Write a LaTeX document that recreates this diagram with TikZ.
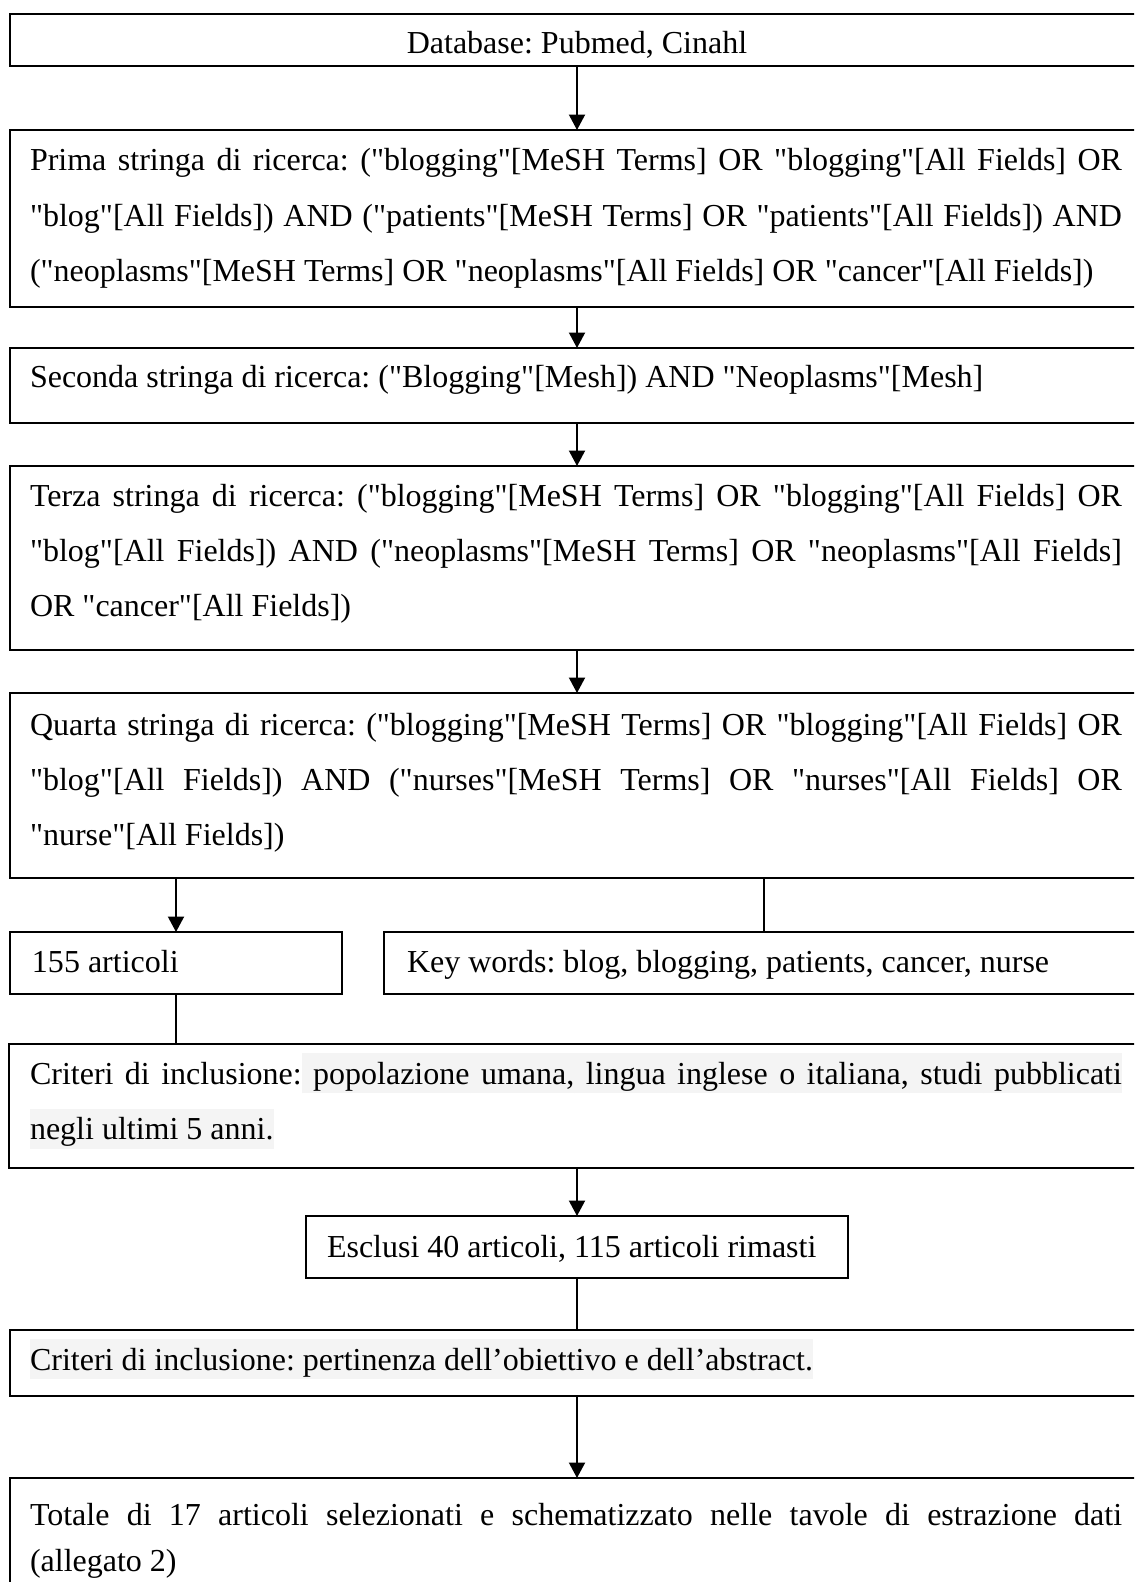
\documentclass[tikz,border=0pt]{standalone}
\usepackage{fontspec}
\setmainfont{Liberation Serif}[Ligatures=TeXOff]
\usetikzlibrary{arrows.meta}
\definecolor{hlgray}{HTML}{F4F4F4}
\newcommand\hlsp{{\color{hlgray}\leaders\vrule height 11.5pt depth 3.5pt\hskip\fontdimen2\font plus\fontdimen3\font minus\fontdimen4\font}}
\newcommand\hlw[1]{{\setlength{\fboxsep}{0pt}\colorbox{hlgray}{\vrule width 0pt height 11.5pt depth 3.5pt#1}}}
\newcommand\jline[1]{\makebox[\linewidth][s]{#1}}
\frenchspacing
\begin{document}
\begin{tikzpicture}[x=0.375pt, y=-0.375pt,
  box/.style={draw, line width=0.75pt, inner sep=0pt, outer sep=0pt, anchor=north west},
  txt/.style={inner sep=0pt, outer sep=0pt, anchor=base west, font=\fontsize{12pt}{20.7pt}\selectfont},
  arr/.style={line width=0.75pt, -{Triangle[width=6pt,length=5.8pt]}},
  conn/.style={line width=0.75pt}]
\useasboundingbox (0,0) rectangle (1134,1582);
\fill[white] (0,0) rectangle (1134,1582);
\clip (0,0) rectangle (1134,1582);
\coordinate (xa) at (577,0);
\coordinate (xk) at (764,0);
% boxes
\node[box, minimum width=1136*0.375pt, minimum height=52*0.375pt] (b1) at (10,14) {};
\node[box, minimum width=1136*0.375pt, minimum height=177*0.375pt] (b2) at (10,130) {};
\node[box, minimum width=1136*0.375pt, minimum height=75*0.375pt] (b3) at (10,348) {};
\node[box, minimum width=1136*0.375pt, minimum height=184*0.375pt] (b4) at (10,466) {};
\node[box, minimum width=1136*0.375pt, minimum height=185*0.375pt] (b5) at (10,693) {};
\node[box, minimum width=332*0.375pt, minimum height=62*0.375pt] (n155) at (10,932) {};
\node[box, minimum width=762*0.375pt, minimum height=62*0.375pt] (kw) at (384,932) {};
\node[box, minimum width=1137*0.375pt, minimum height=124*0.375pt] (crit) at (9,1044) {};
\node[box, minimum width=542*0.375pt, minimum height=62*0.375pt] (escl) at (306,1216) {};
\node[box, minimum width=1136*0.375pt, minimum height=66*0.375pt] (crit2) at (10,1330) {};
\node[box, minimum width=1136*0.375pt, minimum height=130*0.375pt] (tot) at (10,1478) {};
% texts
\node[txt, anchor=base] (t1) at (577,54) {Database: Pubmed, Cinahl};
\node[txt] (t2) at (30,171) {\parbox[t]{409.5pt}{\baselineskip=20.7pt
\jline{Prima stringa di ricerca: ("blogging"[MeSH Terms] OR "blogging"[All Fields] OR}\par
\jline{"blog"[All Fields]) AND ("patients"[MeSH Terms] OR "patients"[All Fields]) AND}\par
\leavevmode("neoplasms"[MeSH Terms] OR "neoplasms"[All Fields] OR "cancer"[All Fields])}};
\node[txt] (t3) at (30,388) {Seconda stringa di ricerca: ("Blogging"[Mesh]) AND "Neoplasms"[Mesh]};
\node[txt] (t4) at (30,506) {\parbox[t]{409.5pt}{\baselineskip=20.7pt
\jline{Terza stringa di ricerca: ("blogging"[MeSH Terms] OR "blogging"[All Fields] OR}\par
\jline{"blog"[All Fields]) AND ("neoplasms"[MeSH Terms] OR "neoplasms"[All Fields]}\par
\leavevmode OR "cancer"[All Fields])}};
\node[txt] (t5) at (30,735) {\parbox[t]{409.5pt}{\baselineskip=20.7pt
\jline{Quarta stringa di ricerca: ("blogging"[MeSH Terms] OR "blogging"[All Fields] OR}\par
\jline{"blog"[All Fields]) AND ("nurses"[MeSH Terms] OR "nurses"[All Fields] OR}\par
\leavevmode"nurse"[All Fields])}};
\node[txt] (t155) at (32,972) {155 articoli};
\node[txt] (tkw) at (407,972) {Key words: blog, blogging, patients, cancer, nurse};
\node[txt] (tcrit) at (30,1084) {\parbox[t]{409.5pt}{\baselineskip=20.7pt
\jline{Criteri di inclusione:\hlsp\hlw{popolazione}\hlsp\hlw{umana,}\hlsp\hlw{lingua}\hlsp\hlw{inglese}\hlsp\hlw{o}\hlsp\hlw{italiana,}\hlsp\hlw{studi}\hlsp\hlw{pubblicati}}\par
\leavevmode\hlw{negli ultimi 5 anni.}}};
\node[txt] (tescl) at (327,1257) {Esclusi 40 articoli, 115 articoli rimasti};
\node[txt] (tcrit2) at (30,1370) {\hlw{Criteri di inclusione: pertinenza dell’obiettivo e dell’abstract.}};
\node[txt] (ttot) at (30,1525) {\parbox[t]{409.5pt}{\baselineskip=17.4pt
\jline{Totale di 17 articoli selezionati e schematizzato nelle tavole di estrazione dati}\par
\leavevmode(allegato 2)}};
% connectors
\draw[arr] (b1.south -| xa) -- (b2.north -| xa);
\draw[arr] (b2.south -| xa) -- (b3.north -| xa);
\draw[arr] (b3.south -| xa) -- (b4.north -| xa);
\draw[arr] (b4.south -| xa) -- (b5.north -| xa);
\draw[arr] (b5.south -| n155.north) -- (n155.north);
\draw[conn] (b5.south -| xk) -- (kw.north -| xk);
\draw[conn] (n155.south) -- (crit.north -| n155.south);
\draw[arr] (crit.south -| xa) -- (escl.north -| xa);
\draw[conn] (escl.south) -- (crit2.north -| escl.south);
\draw[arr] (crit2.south -| xa) -- (tot.north -| xa);
\end{tikzpicture}
\end{document}
